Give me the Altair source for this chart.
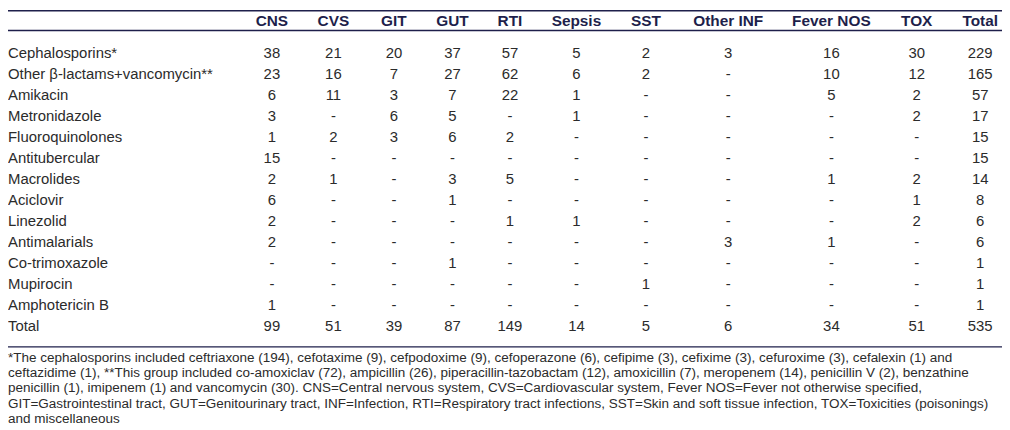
import altair as alt
import pandas as pd

columns = ["CNS", "CVS", "GIT", "GUT", "RTI", "Sepsis", "SST", "Other INF", "Fever NOS", "TOX", "Total"]
drugs = [
    "Cephalosporins*", "Other β-lactams+vancomycin**", "Amikacin", "Metronidazole",
    "Fluoroquinolones", "Antitubercular", "Macrolides", "Aciclovir", "Linezolid",
    "Antimalarials", "Co-trimoxazole", "Mupirocin", "Amphotericin B", "Total",
]
CNS = ["38", "23", "6", "3", "1", "15", "2", "6", "2", "2", "-", "-", "1", "99"]
CVS = ["21", "16", "11", "-", "2", "-", "1", "-", "-", "-", "-", "-", "-", "51"]
GIT = ["20", "7", "3", "6", "3", "-", "-", "-", "-", "-", "-", "-", "-", "39"]
GUT = ["37", "27", "7", "5", "6", "-", "3", "1", "-", "-", "1", "-", "-", "87"]
RTI = ["57", "62", "22", "-", "2", "-", "5", "-", "1", "-", "-", "-", "-", "149"]
Sepsis = ["5", "6", "1", "1", "-", "-", "-", "-", "1", "-", "-", "-", "-", "14"]
SST = ["2", "2", "-", "-", "-", "-", "-", "-", "-", "-", "-", "1", "-", "5"]
OtherINF = ["3", "-", "-", "-", "-", "-", "-", "-", "-", "3", "-", "-", "-", "6"]
FeverNOS = ["16", "10", "5", "-", "-", "-", "1", "-", "-", "1", "-", "-", "-", "34"]
TOX = ["30", "12", "2", "2", "-", "-", "2", "1", "2", "-", "-", "-", "-", "51"]
Total = ["229", "165", "57", "17", "15", "15", "14", "8", "6", "6", "1", "1", "1", "535"]

footnote = [
    "*The cephalosporins included ceftriaxone (194), cefotaxime (9), cefpodoxime (9), cefoperazone (6), cefipime (3), cefixime (3), cefuroxime (3), cefalexin (1) and",
    "ceftazidime (1), **This group included co-amoxiclav (72), ampicillin (26), piperacillin-tazobactam (12), amoxicillin (7), meropenem (14), penicillin V (2), benzathine",
    "penicillin (1), imipenem (1) and vancomycin (30). CNS=Central nervous system, CVS=Cardiovascular system, Fever NOS=Fever not otherwise specified,",
    "GIT=Gastrointestinal tract, GUT=Genitourinary tract, INF=Infection, RTI=Respiratory tract infections, SST=Skin and soft tissue infection, TOX=Toxicities (poisonings)",
    "and miscellaneous",
]

series = [CNS, CVS, GIT, GUT, RTI, Sepsis, SST, OtherINF, FeverNOS, TOX, Total]
fields = ["c%d" % i for i in range(len(columns))]
df = pd.DataFrame({"drug": drugs, **{f: s for f, s in zip(fields, series)}})
one = pd.DataFrame({"k": [0]})

# layout (style) constants
W, H = 1002, 422
COL_CENTERS = [266, 328, 389, 448, 506, 573, 643, 726, 830, 916, 980]
NAVY = "#1e1f4b"
BODY = "#2b2b2b"
FONT = "Liberation Sans"
FS = 15
HFS = 15.5

yenc = alt.Y("drug:N", sort=drugs, axis=None,
             scale=alt.Scale(type="point", domain=drugs, range=[33, 329]))

layers = []
# rules
for yy, sw in [(1, 1.6), (21, 1.3), (340, 1.3)]:
    layers.append(
        alt.Chart(one).mark_rule(color=NAVY, strokeWidth=sw).encode(
            x=alt.value(0), x2=alt.value(W), y=alt.value(yy)
        )
    )
# row labels
layers.append(
    alt.Chart(df).mark_text(align="left", baseline="middle", font=FONT, fontSize=FS, color=BODY)
    .encode(x=alt.value(0), y=yenc, text="drug:N")
)
# columns
for name, f, cx in zip(columns, fields, COL_CENTERS):
    layers.append(
        alt.Chart(one).mark_text(align="center", baseline="middle", font=FONT, fontSize=HFS,
                                 fontWeight="bold", color=NAVY, text=name)
        .encode(x=alt.value(cx), y=alt.value(11))
    )
    layers.append(
        alt.Chart(df).mark_text(align="center", baseline="middle", font=FONT, fontSize=FS, color=BODY)
        .encode(x=alt.value(cx), y=yenc, text=alt.Text(f + ":N"))
    )
# footnote
layers.append(
    alt.Chart(one).mark_text(align="left", baseline="middle", font=FONT, fontSize=13.6,
                             color=BODY, lineHeight=15.4, text=footnote)
    .encode(x=alt.value(0), y=alt.value(351))
)

chart = alt.layer(*layers).properties(
    width=W, height=H, autosize=alt.AutoSizeParams(type="none"), padding=0
).configure_view(strokeWidth=0)

chart.save("out.html", embed_options={"renderer": "svg", "actions": False})
